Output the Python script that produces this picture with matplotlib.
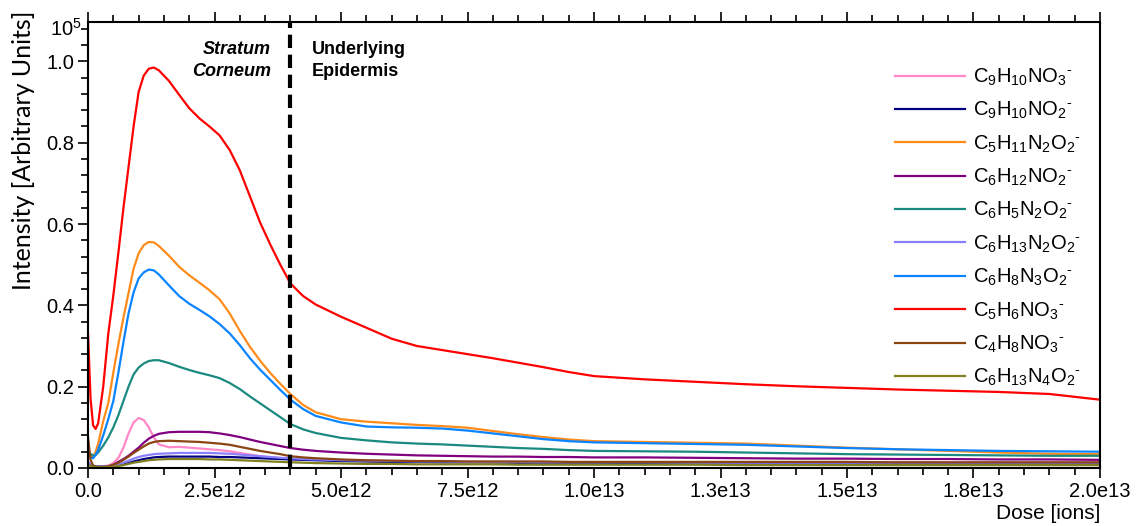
import numpy as np
import matplotlib
matplotlib.use("Agg")
import matplotlib.pyplot as plt
from matplotlib.ticker import FixedLocator, MultipleLocator

plt.rcParams['font.family'] = ['Liberation Sans', 'DejaVu Sans']
plt.rcParams['mathtext.fontset'] = 'custom'
plt.rcParams['mathtext.rm'] = 'Liberation Sans'
plt.rcParams['mathtext.default'] = 'regular'

# Dose grid, in units of 1e12 ions
dose = [0, 0.05, 0.1, 0.15, 0.2, 0.3, 0.4, 0.5, 0.6, 0.7, 0.8, 0.9, 1.0, 1.1, 1.2, 1.3, 1.4,
        1.6, 1.8, 2.0, 2.2, 2.4, 2.6, 2.8, 3.0, 3.2, 3.4, 3.6, 3.8, 4.0, 4.25, 4.5,
        5.0, 5.5, 6.0, 6.5, 7.0, 7.5, 8.0, 8.5, 9.0, 9.5, 10, 11, 12, 13, 14, 15, 16, 17, 18, 19, 20]

# Intensities (x1e5 arbitrary units)
c9h10no3 = [0.010, 0.008, 0.005, 0.004, 0.004, 0.004, 0.006, 0.012, 0.025, 0.050, 0.085, 0.112, 0.123, 0.118, 0.100, 0.075, 0.058,
            0.051, 0.052, 0.050, 0.048, 0.046, 0.044, 0.041, 0.037, 0.033, 0.029, 0.026, 0.024, 0.022, 0.021, 0.020,
            0.018, 0.017, 0.016, 0.016, 0.015, 0.015, 0.014, 0.014, 0.014, 0.013, 0.013, 0.013, 0.013, 0.012, 0.012, 0.012, 0.012, 0.012, 0.012, 0.011, 0.011]
c9h10no2 = [0.012, 0.008, 0.005, 0.003, 0.003, 0.003, 0.003, 0.004, 0.006, 0.009, 0.012, 0.016, 0.019, 0.022, 0.024, 0.026, 0.027,
            0.028, 0.028, 0.028, 0.028, 0.028, 0.027, 0.027, 0.026, 0.025, 0.024, 0.023, 0.022, 0.021, 0.020, 0.019,
            0.017, 0.016, 0.015, 0.015, 0.014, 0.014, 0.014, 0.013, 0.013, 0.013, 0.013, 0.012, 0.012, 0.012, 0.012, 0.011, 0.011, 0.011, 0.011, 0.011, 0.011]
c5h11n2o2 = [0.045, 0.030, 0.028, 0.040, 0.060, 0.115, 0.160, 0.235, 0.305, 0.370, 0.430, 0.490, 0.528, 0.548, 0.556, 0.555, 0.546,
             0.522, 0.495, 0.474, 0.456, 0.437, 0.415, 0.380, 0.337, 0.298, 0.264, 0.234, 0.207, 0.182, 0.155, 0.137,
             0.120, 0.114, 0.110, 0.106, 0.103, 0.099, 0.091, 0.083, 0.076, 0.070, 0.066, 0.064, 0.062, 0.060, 0.055, 0.050, 0.046, 0.042, 0.038, 0.035, 0.034]
c6h12no2 = [0.010, 0.008, 0.005, 0.004, 0.003, 0.003, 0.004, 0.008, 0.015, 0.022, 0.030, 0.040, 0.050, 0.062, 0.072, 0.079, 0.084,
            0.088, 0.089, 0.089, 0.089, 0.088, 0.085, 0.081, 0.076, 0.070, 0.064, 0.059, 0.054, 0.049, 0.045, 0.042,
            0.038, 0.035, 0.033, 0.031, 0.030, 0.029, 0.028, 0.028, 0.027, 0.027, 0.026, 0.026, 0.025, 0.024, 0.023, 0.023, 0.022, 0.022, 0.021, 0.021, 0.020]
c6h5n2o2 = [0.040, 0.035, 0.030, 0.032, 0.038, 0.055, 0.075, 0.100, 0.130, 0.165, 0.200, 0.230, 0.247, 0.257, 0.263, 0.265, 0.265,
            0.258, 0.249, 0.241, 0.234, 0.228, 0.221, 0.209, 0.194, 0.176, 0.159, 0.142, 0.125, 0.108, 0.095, 0.086,
            0.074, 0.068, 0.063, 0.060, 0.058, 0.055, 0.052, 0.049, 0.047, 0.044, 0.042, 0.041, 0.040, 0.038, 0.036, 0.034, 0.033, 0.032, 0.031, 0.030, 0.030]
c6h13n2o2 = [0.015, 0.010, 0.006, 0.004, 0.004, 0.004, 0.004, 0.006, 0.009, 0.013, 0.018, 0.023, 0.027, 0.030, 0.032, 0.034, 0.035,
             0.036, 0.037, 0.037, 0.037, 0.037, 0.036, 0.035, 0.033, 0.031, 0.029, 0.027, 0.025, 0.024, 0.022, 0.021,
             0.019, 0.018, 0.017, 0.016, 0.016, 0.015, 0.015, 0.015, 0.014, 0.014, 0.014, 0.014, 0.013, 0.013, 0.013, 0.013, 0.013, 0.013, 0.013, 0.013, 0.013]
c6h8n3o2 = [0.035, 0.025, 0.024, 0.032, 0.045, 0.080, 0.120, 0.165, 0.235, 0.310, 0.380, 0.432, 0.466, 0.481, 0.488, 0.486, 0.476,
            0.449, 0.423, 0.404, 0.389, 0.373, 0.354, 0.331, 0.302, 0.270, 0.242, 0.217, 0.192, 0.168, 0.145, 0.128,
            0.112, 0.102, 0.100, 0.099, 0.097, 0.092, 0.085, 0.078, 0.071, 0.066, 0.063, 0.061, 0.059, 0.057, 0.053, 0.049, 0.046, 0.044, 0.042, 0.041, 0.040]
c5h6no3 = [0.330, 0.170, 0.105, 0.096, 0.110, 0.200, 0.330, 0.425, 0.530, 0.640, 0.740, 0.840, 0.925, 0.965, 0.982, 0.985, 0.978,
           0.952, 0.918, 0.885, 0.860, 0.840, 0.818, 0.782, 0.732, 0.668, 0.604, 0.550, 0.500, 0.454, 0.423, 0.402,
           0.372, 0.345, 0.318, 0.300, 0.290, 0.280, 0.270, 0.259, 0.248, 0.236, 0.226, 0.218, 0.212, 0.206, 0.201, 0.197, 0.193, 0.190, 0.187, 0.182, 0.168]
c4h8no3 = [0.075, 0.020, 0.006, 0.004, 0.003, 0.003, 0.004, 0.008, 0.013, 0.020, 0.028, 0.037, 0.045, 0.053, 0.060, 0.064, 0.066,
           0.067, 0.066, 0.065, 0.064, 0.062, 0.060, 0.057, 0.052, 0.047, 0.042, 0.038, 0.034, 0.029, 0.026, 0.024,
           0.021, 0.019, 0.018, 0.017, 0.017, 0.016, 0.016, 0.016, 0.016, 0.015, 0.015, 0.015, 0.015, 0.015, 0.015, 0.015, 0.014, 0.014, 0.014, 0.014, 0.014]
c6h13n4o2 = [0.008, 0.005, 0.003, 0.002, 0.002, 0.002, 0.002, 0.003, 0.005, 0.007, 0.010, 0.013, 0.015, 0.017, 0.019, 0.020, 0.021,
             0.022, 0.022, 0.022, 0.022, 0.021, 0.021, 0.020, 0.019, 0.018, 0.017, 0.016, 0.015, 0.014, 0.013, 0.012,
             0.011, 0.010, 0.010, 0.009, 0.009, 0.009, 0.009, 0.008, 0.008, 0.008, 0.008, 0.008, 0.008, 0.007, 0.007, 0.007, 0.007, 0.007, 0.007, 0.007, 0.007]

series = [
    (r'C$_9$H$_{10}$NO$_3$$^{\text{-}}$', c9h10no3, '#ff88c8'),
    (r'C$_9$H$_{10}$NO$_2$$^{\text{-}}$', c9h10no2, '#000080'),
    (r'C$_5$H$_{11}$N$_2$O$_2$$^{\text{-}}$', c5h11n2o2, '#ff8c1a'),
    (r'C$_6$H$_{12}$NO$_2$$^{\text{-}}$', c6h12no2, '#800080'),
    (r'C$_6$H$_5$N$_2$O$_2$$^{\text{-}}$', c6h5n2o2, '#1a8a80'),
    (r'C$_6$H$_{13}$N$_2$O$_2$$^{\text{-}}$', c6h13n2o2, '#8a80ff'),
    (r'C$_6$H$_8$N$_3$O$_2$$^{\text{-}}$', c6h8n3o2, '#0a84ff'),
    (r'C$_5$H$_6$NO$_3$$^{\text{-}}$', c5h6no3, '#ff0000'),
    (r'C$_4$H$_8$NO$_3$$^{\text{-}}$', c4h8no3, '#8b4513'),
    (r'C$_6$H$_{13}$N$_4$O$_2$$^{\text{-}}$', c6h13n4o2, '#808020'),
]

x_ticks = [0, 2.5e12, 5.0e12, 7.5e12, 1.0e13, 1.25e13, 1.5e13, 1.75e13, 2.0e13]
x_labels = ['0.0', '2.5e12', '5.0e12', '7.5e12', '1.0e13', '1.3e13', '1.5e13', '1.8e13', '2.0e13']
boundary = 4.0e12

fig = plt.figure(figsize=(11.36, 5.26), dpi=100)
ax = fig.add_axes([0.0775, 0.1103, 0.8908, 0.8479])

x = np.array(dose) * 1e12
for label, y, col in series:
    ax.plot(x, y, color=col, lw=1.6, label=label)

ax.axvline(boundary, color='black', lw=3, ls=(0, (3.2, 1.6)), zorder=5)

ax.set_xlim(0, 2.0e13)
ax.set_ylim(0, 1.097)
ax.xaxis.set_major_locator(FixedLocator(x_ticks))
ax.set_xticklabels(x_labels)
ax.xaxis.set_minor_locator(MultipleLocator(5e11))
ax.yaxis.set_major_locator(MultipleLocator(0.2))
ax.yaxis.set_minor_locator(MultipleLocator(0.04))
ax.yaxis.set_major_formatter(matplotlib.ticker.FormatStrFormatter('%.1f'))

ax.tick_params(which='both', direction='out', top=True, right=False, labelsize=14.5, width=1.2)
ax.tick_params(which='major', length=7, pad=3)
ax.tick_params(which='minor', length=5)
for sp in ax.spines.values():
    sp.set_linewidth(1.5)

ax.set_xlabel('Dose [ions]', fontsize=15, loc='right', labelpad=2)
ax.set_ylabel('Intensity [Arbitrary Units]', fontsize=18, family=['Lato', 'DejaVu Sans'])
ax.yaxis.set_label_coords(-0.052, 0.713)
ax.text(-0.006, 0.985, r'10$^5$', transform=ax.transAxes, ha='right', va='center', fontsize=14.5)

ax.text(boundary - 0.38e12, 1.05, 'Stratum\nCorneum', ha='right', va='top', fontsize=13,
        fontweight='bold', fontstyle='italic', linespacing=1.35)
ax.text(boundary + 0.42e12, 1.05, 'Underlying\nEpidermis', ha='left', va='top', fontsize=13,
        fontweight='bold', linespacing=1.35)

ax.legend(loc='upper left', bbox_to_anchor=(0.797, 0.90), frameon=False, fontsize=14.5,
          borderpad=0, borderaxespad=0, handlelength=3.5, handletextpad=0.38, labelspacing=0.6)

fig.savefig('out.png', dpi=100)
